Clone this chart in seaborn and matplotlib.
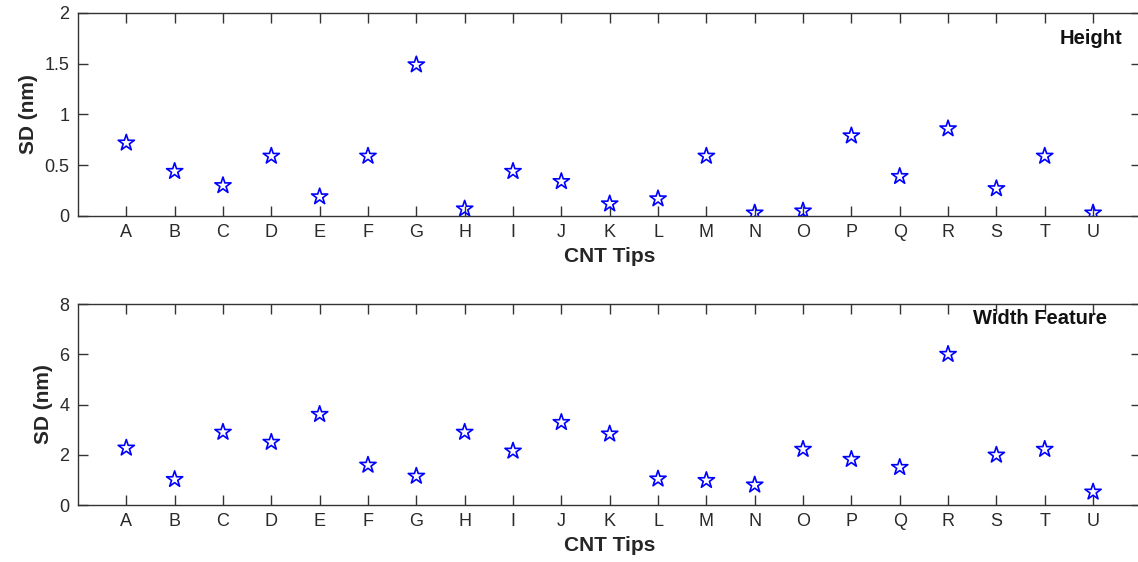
import matplotlib
matplotlib.use("Agg")
import matplotlib.pyplot as plt
import seaborn as sns
import pandas as pd

tips = list("ABCDEFGHIJKLMNOPQRSTU")
height_sd = [0.72, 0.44, 0.30, 0.59, 0.19, 0.59, 1.49, 0.07, 0.44, 0.34, 0.12,
             0.17, 0.59, 0.03, 0.05, 0.79, 0.39, 0.86, 0.27, 0.59, 0.03]
width_sd = [2.27, 1.02, 2.90, 2.50, 3.61, 1.59, 1.15, 2.90, 2.15, 3.29, 2.83,
            1.04, 0.98, 0.80, 2.22, 1.82, 1.50, 6.00, 1.99, 2.22, 0.52]

sns.set_theme(style="ticks")
plt.rcParams["font.family"] = ["Liberation Sans", "DejaVu Sans"]

fig = plt.figure(figsize=(11.38, 5.62), dpi=100)
ax_top = fig.add_axes([0.0685, 0.6157, 0.9345, 0.3612])
ax_bot = fig.add_axes([0.0685, 0.1014, 0.9345, 0.3576])

panels = [
    (ax_top, height_sd, "Height", (0, 2), [0, 0.5, 1, 1.5, 2], ["0", "0.5", "1", "1.5", "2"], 0.982, 0.92),
    (ax_bot, width_sd, "Width Feature", (0, 8), [0, 2, 4, 6, 8], ["0", "2", "4", "6", "8"], 0.968, 0.975),
]

edge = "#333333"
for ax, vals, title, ylim, yt, ytl, tx, ty in panels:
    df = pd.DataFrame({"tip": tips, "sd": vals})
    sns.scatterplot(data=df, x="tip", y="sd", ax=ax, marker="*", s=150,
                    facecolor="none", edgecolor="#0000ff", linewidth=1.2,
                    legend=False, zorder=3)
    ax.set_xlim(-1, 21)
    ax.set_ylim(*ylim)
    ax.set_yticks(yt)
    ax.set_yticklabels(ytl)
    ax.tick_params(axis="both", direction="in", length=7.5, width=1, color=edge,
                   labelsize=13, labelcolor="#2a2a2a", top=True, right=True, pad=6)
    for sp in ax.spines.values():
        sp.set_visible(True)
        sp.set_color(edge)
        sp.set_linewidth(1)
    ax.set_xlabel("CNT Tips", fontsize=15, fontweight="bold", labelpad=4)
    ax.set_ylabel("SD (nm)", fontsize=15, fontweight="bold", labelpad=5)
    ax.text(tx, ty, title, transform=ax.transAxes, ha="right", va="top",
            fontsize=14.5, fontweight="bold", color="#111111")

fig.savefig("out.png", dpi=100, facecolor="white")
